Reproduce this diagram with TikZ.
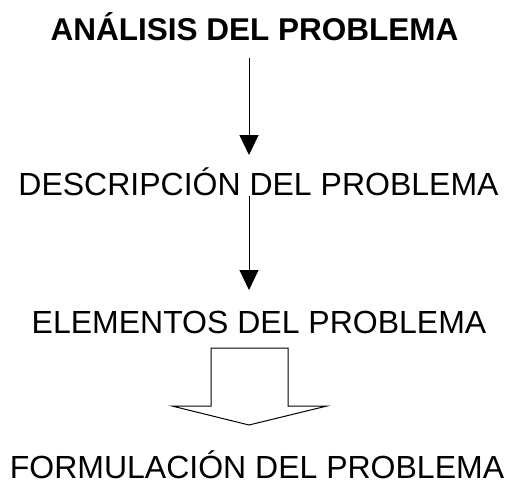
\documentclass[tikz,border=0pt]{standalone}
\usepackage{fontspec}
\setmainfont{Liberation Sans}
\usetikzlibrary{arrows.meta}
\begin{document}
\begin{tikzpicture}[x=1pt,y=1pt,
  lbl/.style={anchor=base,inner sep=0pt,font=\fontsize{32}{38}\selectfont},
  conn/.style={line width=1pt,-{Triangle[length=20pt,width=19pt]}},
  blockarrow/.style={draw=black,fill=white,line width=1pt,line join=miter}]
\useasboundingbox (0,0) rectangle (509,-482);
\node[lbl,font=\fontsize{31.5}{38}\selectfont\bfseries] (title) at (254.5,-40) {ANÁLISIS DEL PROBLEMA};
\node[lbl] (desc) at (258.5,-195) {DESCRIPCIÓN DEL PROBLEMA};
\node[lbl] (elem) at (259,-333) {ELEMENTOS DEL PROBLEMA};
\node[lbl] (form) at (257,-478.5) {FORMULACIÓN DEL PROBLEMA};
\coordinate (ax) at (249,0);
\draw[conn] ([yshift=-18pt]title.base -| ax) -- ([yshift=40pt]desc.base -| ax);
\draw[conn] ([yshift=-1pt]desc.base -| ax) -- ([yshift=43pt]elem.base -| ax);
\coordinate (bt) at ([yshift=-15pt]elem.base -| ax);
\draw[blockarrow] ([xshift=-38pt]bt) -- ([xshift=39pt]bt) -- ([xshift=39pt,yshift=-58pt]bt)
  -- ([xshift=78pt,yshift=-58pt]bt) -- ([yshift=-77pt]bt) -- ([xshift=-77pt,yshift=-58pt]bt)
  -- ([xshift=-38pt,yshift=-58pt]bt) -- cycle;
\end{tikzpicture}
\end{document}
